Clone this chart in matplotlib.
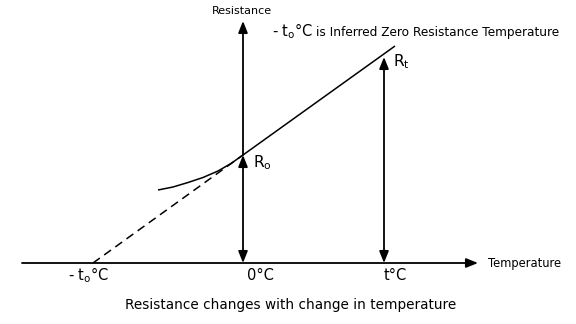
import matplotlib
matplotlib.use("Agg")
import matplotlib.pyplot as plt

# Temperature axis positions (0 °C at the origin) and resistance values
t_zero_res = -150          # inferred zero resistance temperature, -t0
t_ref = 0                  # 0 °C
t_meas = 141               # t °C
R0 = 108
Rt = 209

# Measured resistance curve (temperature, resistance)
curve_t = [-85, -70, -55, -40, -25, -12, 0, 152]
curve_R = [73, 76, 80.5, 85.5, 92, 99.5, 108, 217]

# Linear extrapolation down to zero resistance
extrap_t = [t_zero_res, t_ref]
extrap_R = [0, R0]

tick_labels = ["- t$_\\mathrm{o}$°C", "0°C", "t°C"]
tick_pos = [t_zero_res, t_ref, t_meas]

axis_t = [-221, 235]
axis_R_top = 242

fig = plt.figure(figsize=(5.76, 3.24), dpi=100)
ax = fig.add_axes([0, 0, 1, 1])
ax.set_xlim(-243, 333)
ax.set_ylim(-61, 263)
ax.axis("off")

lw = 1.3
head = "-|>,head_length=0.7,head_width=0.28"
both = "<|-|>,head_length=0.7,head_width=0.28"
arrow_kw = dict(color="black", lw=lw, shrinkA=0, shrinkB=0)

# Temperature axis
ax.annotate("", xy=(axis_t[1], 0), xytext=(axis_t[0], 0),
            arrowprops=dict(arrowstyle=head, **arrow_kw))
# Resistance axis through 0 °C
ax.annotate("", xy=(t_ref, axis_R_top), xytext=(t_ref, R0),
            arrowprops=dict(arrowstyle=head, **arrow_kw))
ax.annotate("", xy=(t_ref, R0), xytext=(t_ref, 0),
            arrowprops=dict(arrowstyle=both, **arrow_kw))
# Resistance at t °C
ax.annotate("", xy=(t_meas, Rt - 3), xytext=(t_meas, 0),
            arrowprops=dict(arrowstyle=both, **arrow_kw))

# Resistance curve and its extrapolation
ax.plot(curve_t, curve_R, color="black", lw=1.1, solid_capstyle="butt")
ax.plot(extrap_t, extrap_R, color="black", lw=1.1, linestyle=(0, (5.5, 3.5)))

font = "DejaVu Sans"
# Tick labels below the temperature axis
offsets = [-4, 17, 11]
for pos, lab, off in zip(tick_pos, tick_labels, offsets):
    ax.text(pos + off, -17, lab, ha="center", va="baseline", fontsize=10.5,
            family=font)

ax.text(245, 0, "Temperature", ha="left", va="center", fontsize=8.3, family=font)
ax.text(-1, 252, "Resistance", ha="center", va="center", fontsize=8, family=font)

ax.text(150, Rt - 8, "R$_\\mathrm{t}$", ha="left", va="center", fontsize=11, family=font)
ax.text(10, R0 - 8, "R$_\\mathrm{o}$", ha="left", va="center", fontsize=11, family=font)

ax.text(29, 227, "- t$_\\mathrm{o}$°C", ha="left", va="baseline", fontsize=10.5, family=font)
ax.text(73, 227, "is Inferred Zero Resistance Temperature", ha="left",
        va="baseline", fontsize=8.7, family=font)

ax.text(48, -42, "Resistance changes with change in temperature", ha="center",
        va="center", fontsize=9.8, family=font)

fig.savefig("out.png", dpi=100)
